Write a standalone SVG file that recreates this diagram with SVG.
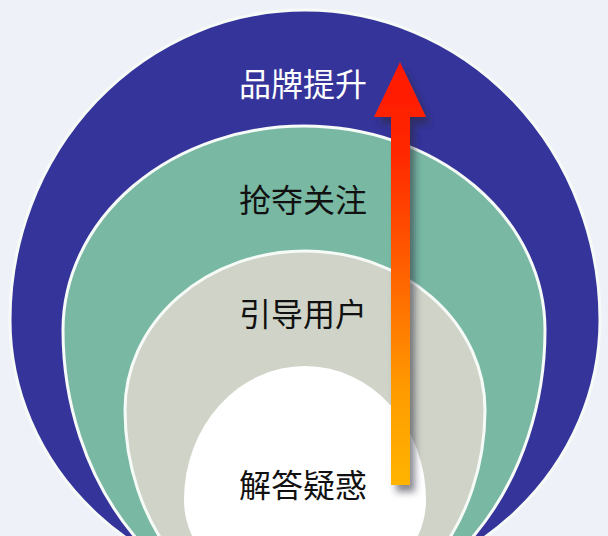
<svg xmlns="http://www.w3.org/2000/svg" width="608" height="536" viewBox="0 0 608 536">
  <style>
    .ring { stroke: #f6fbf8; stroke-width: 3; }
    .lbl { font-family: "Noto Sans CJK SC", "Noto Sans", sans-serif; font-size: 32px; text-anchor: middle; dominant-baseline: central; }
  </style>
  <defs>
    <linearGradient id="arrowGrad" x1="0" y1="0" x2="0" y2="1">
      <stop offset="0" stop-color="#ff1800"/>
      <stop offset="0.22" stop-color="#ff2800"/>
      <stop offset="0.5" stop-color="#ff6200"/>
      <stop offset="0.78" stop-color="#ff9c00"/>
      <stop offset="1" stop-color="#ffb400"/>
    </linearGradient>
    <filter id="shadow" x="-60%" y="-10%" width="220%" height="125%">
      <feDropShadow dx="5" dy="7" stdDeviation="3.5" flood-color="#2a2a3a" flood-opacity="0.55"/>
    </filter>
  </defs>
  <rect width="608" height="536" fill="#eef1f8"/>
  <g id="node-brand">
    <path class="ring" fill="#35349b" d="M10,320 A295,310 0 0 1 600,320 A295,274 0 0 1 10,320 Z"/>
    <text class="lbl" x="303" y="82" fill="#ffffff">品牌提升</text>
  </g>
  <g id="node-attention">
    <path class="ring" fill="#79b9a4" d="M63,330 A241,204 0 0 1 545,330 A241,290 0 0 1 63,330 Z"/>
    <text class="lbl" x="303" y="198" fill="#111111">抢夺关注</text>
  </g>
  <g id="node-guide">
    <path class="ring" fill="#d0d4c8" d="M125,410 A180,159 0 0 1 485,410 A180,215 0 0 1 125,410 Z"/>
    <text class="lbl" x="303" y="312" fill="#111111">引导用户</text>
  </g>
  <g id="node-answer">
    <path fill="#ffffff" d="M184,500 A121,134 0 0 1 426,500 A121,100 0 0 1 184,500 Z"/>
    <text class="lbl" x="303" y="483" fill="#111111">解答疑惑</text>
  </g>
  <g id="connectors">
    <path filter="url(#shadow)" fill="url(#arrowGrad)" d="M400,62 L426,117 L410,117 L410,485 L391,485 L391,117 L374,117 Z"/>
  </g>
</svg>
